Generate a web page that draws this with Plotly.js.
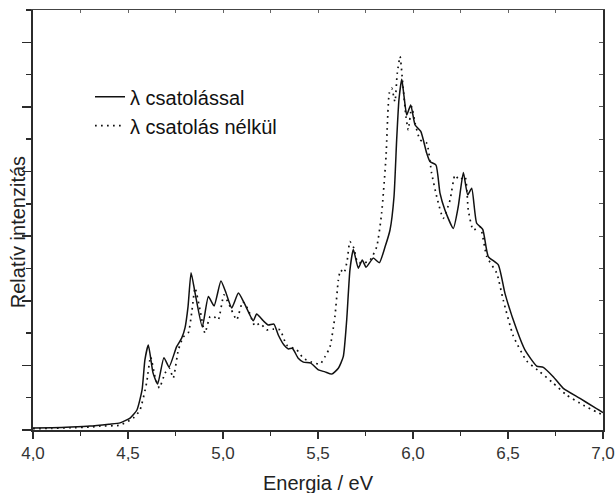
<!DOCTYPE html>
<html>
<head>
<meta charset="utf-8">
<script src="https://cdn.plot.ly/plotly-3.0.1.min.js"></script>
<style>html,body{margin:0;padding:0;background:#fff;}#chart{width:616px;height:493px;}</style>
</head>
<body>
<div id="chart"></div>
<script>
// Solid curve: "λ csatolással"
const energyWith = [4.000,4.100,4.200,4.300,4.400,4.458,4.511,4.547,4.574,4.589,4.607,4.632,4.656,4.689,4.716,4.756,4.783,4.800,4.816,4.832,4.853,4.891,4.923,4.953,4.989,5.016,5.046,5.081,5.111,5.159,5.177,5.212,5.238,5.268,5.291,5.321,5.344,5.365,5.396,5.423,5.462,5.502,5.537,5.572,5.607,5.633,5.651,5.668,5.686,5.712,5.733,5.753,5.791,5.823,5.853,5.879,5.900,5.914,5.926,5.941,5.953,5.967,5.988,6.011,6.041,6.072,6.089,6.121,6.142,6.168,6.212,6.238,6.265,6.288,6.309,6.335,6.367,6.396,6.449,6.484,6.546,6.589,6.651,6.686,6.738,6.791,6.879,6.949,7.000];
const intensityWith = [0.06,0.07,0.09,0.12,0.18,0.22,0.37,0.62,1.24,2.17,2.63,1.76,1.42,2.24,1.95,2.58,2.85,3.16,3.82,4.87,4.24,3.19,4.13,3.84,4.61,4.24,3.78,4.24,3.94,3.38,3.59,3.38,3.25,3.28,2.94,2.63,2.51,2.53,2.22,2.10,2.07,1.86,1.80,1.73,1.91,2.27,3.40,4.95,5.59,5.01,5.26,5.04,5.32,5.18,5.67,6.19,7.22,8.98,10.22,10.86,10.32,9.75,10.06,9.44,9.24,8.57,8.31,8.20,7.33,6.81,6.24,6.91,7.97,7.28,7.48,6.40,6.21,5.37,5.11,4.23,3.10,2.48,1.98,1.94,1.65,1.29,0.98,0.72,0.54];

// Dotted curve: "λ csatolás nélkül"
const energyWithout = [4.000,4.100,4.200,4.300,4.353,4.458,4.528,4.563,4.598,4.619,4.642,4.665,4.695,4.717,4.738,4.765,4.791,4.817,4.835,4.853,4.879,4.905,4.932,4.953,4.975,5.005,5.033,5.072,5.104,5.133,5.168,5.195,5.230,5.265,5.300,5.335,5.388,5.423,5.467,5.511,5.537,5.563,5.589,5.607,5.619,5.637,5.654,5.668,5.689,5.707,5.738,5.774,5.809,5.835,5.858,5.875,5.888,5.905,5.917,5.932,5.946,5.963,5.975,5.993,6.011,6.037,6.072,6.098,6.125,6.159,6.195,6.221,6.244,6.274,6.291,6.317,6.353,6.388,6.441,6.475,6.528,6.598,6.668,6.738,6.809,6.896,7.000];
const intensityWithout = [0.04,0.05,0.07,0.09,0.12,0.15,0.37,0.62,1.46,2.27,1.65,1.30,1.76,1.92,1.61,2.48,2.88,3.00,3.62,4.40,3.72,3.00,3.51,3.51,3.41,4.18,3.87,3.41,3.97,3.72,3.22,3.30,3.10,3.12,3.10,2.63,2.48,2.22,2.10,2.04,2.27,2.57,3.51,4.64,4.95,4.86,5.26,5.83,5.63,5.21,5.16,5.26,5.67,6.71,8.46,10.42,10.58,10.16,11.04,11.56,10.73,9.70,9.29,10.01,9.50,8.98,8.88,7.95,7.22,6.55,7.12,7.89,7.74,7.84,6.81,6.19,6.29,5.37,4.85,4.02,2.91,2.14,1.80,1.45,1.08,0.77,0.46];

const seriesNames = ["λ csatolással", "λ csatolás nélkül"];
const xTickVals = [4.0,4.5,5.0,5.5,6.0,6.5,7.0];
const xTickText = ["4,0","4,5","5,0","5,5","6,0","6,5","7,0"];

const font = "Arial, 'Liberation Sans', sans-serif";
const axisColor = "#2b2b2b";

const traces = [
  {x: energyWith, y: intensityWith, type: "scatter", mode: "lines", name: seriesNames[0],
   line: {color: "#111", width: 1.5, shape: "spline", smoothing: 0.5}},
  {x: energyWithout, y: intensityWithout, type: "scatter", mode: "lines", name: seriesNames[1],
   line: {color: "#111", width: 1.7, dash: "1.7px,4.3px", shape: "spline", smoothing: 0.5}},
  {x: energyWith, y: intensityWith, xaxis: "x2", yaxis: "y2", type: "scatter", mode: "lines",
   showlegend: false, hoverinfo: "skip", opacity: 0, line: {width: 0}}
];

const layout = {
  width: 616, height: 493,
  margin: {l: 33, r: 13, t: 10, b: 63},
  paper_bgcolor: "#fff", plot_bgcolor: "#fff",
  showlegend: true,
  legend: {x: 0.1, y: 0.84, xanchor: "left", yanchor: "top", bgcolor: "rgba(0,0,0,0)",
           font: {family: font, size: 20, color: "#111"}, tracegroupgap: 0, itemclick: false},
  xaxis: {range: [4, 7], showgrid: false, zeroline: false, showline: true, linecolor: axisColor, linewidth: 2,
          ticks: "outside", ticklen: 7, tickwidth: 1.5, tickcolor: axisColor,
          tickvals: xTickVals, ticktext: xTickText,
          tickfont: {family: font, size: 17, color: "#333"},
          minor: {dtick: 0.25, ticklen: 4, tickwidth: 1.5, tickcolor: axisColor, ticks: "outside", showgrid: false},
          fixedrange: true},
  yaxis: {range: [0, 13], showgrid: false, zeroline: false, showline: true, linecolor: axisColor, linewidth: 2,
          ticks: "outside", ticklen: 9, tickwidth: 1.5, tickcolor: axisColor, dtick: 2, tick0: 0,
          showticklabels: false,
          minor: {dtick: 1, ticklen: 5, tickwidth: 1.5, tickcolor: axisColor, ticks: "outside", showgrid: false},
          fixedrange: true},
  xaxis2: {range: [4, 7], overlaying: "x", side: "top", showgrid: false, zeroline: false, showline: true,
           linecolor: "#444", linewidth: 1.5, ticks: "inside", ticklen: 3, tickwidth: 1, tickcolor: "#666",
           dtick: 0.25, tick0: 4, showticklabels: false, anchor: "y2", fixedrange: true},
  yaxis2: {range: [0, 13], overlaying: "y", side: "right", showgrid: false, zeroline: false, showline: true,
           linecolor: axisColor, linewidth: 2, ticks: "inside", ticklen: 4, tickwidth: 1, tickcolor: "#555",
           dtick: 1, tick0: 0, showticklabels: false, anchor: "x2", fixedrange: true},
  annotations: [
    {text: "Energia / eV", xref: "paper", yref: "paper", x: 0.5, y: -0.127, xanchor: "center", yanchor: "middle",
     showarrow: false, font: {family: font, size: 20, color: "#222"}},
    {text: "Relatív intenzitás", xref: "paper", yref: "paper", x: -0.027, y: 0.47, xanchor: "center", yanchor: "middle",
     textangle: -90, showarrow: false, font: {family: font, size: 20, color: "#222"}}
  ]
};

Plotly.newPlot("chart", traces, layout, {displayModeBar: false, staticPlot: true});
</script>
</body>
</html>
